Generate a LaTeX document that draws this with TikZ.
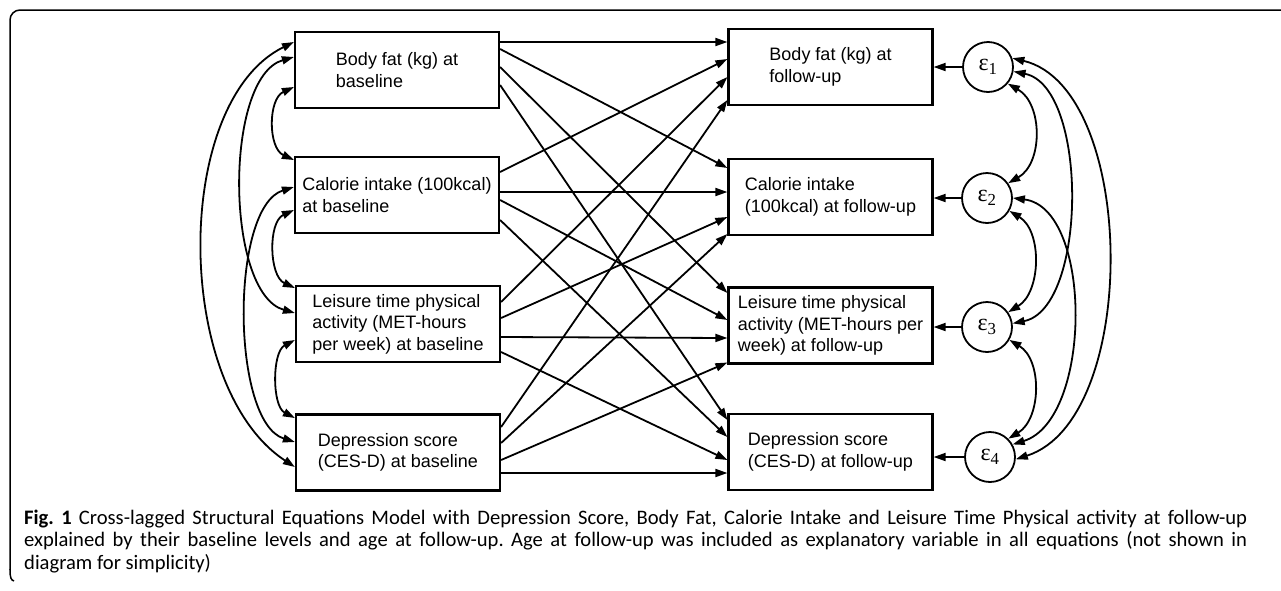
\documentclass[tikz,border=0pt]{standalone}
\usepackage{fontspec}
\setmainfont{Liberation Sans}
\newfontfamily\capfont{Carlito}
\newfontfamily\epsfont{Liberation Serif}
\usetikzlibrary{arrows.meta,calc}
\frenchspacing
\begin{document}
\begin{tikzpicture}[x=1pt,y=-1pt,
 box/.style={draw,line width=2.2pt,minimum width=204pt,minimum height=76pt,inner sep=0pt,align=left,font=\fontsize{18}{21.5}\selectfont},
 err/.style={draw,circle,line width=1.8pt,minimum size=50pt,inner sep=0pt,font=\epsfont\fontsize{24}{24}\selectfont},
 pth/.style={line width=1.8pt,-{Triangle[length=12pt,width=8pt]}},
 cov/.style={line width=1.8pt,{Triangle[length=12pt,width=8pt]}-{Triangle[length=12pt,width=8pt]}},
 capline/.style={anchor=base west,inner sep=0pt,font=\capfont\fontsize{20.6}{22}\selectfont},
]
\useasboundingbox (0,0) rectangle (1281,590);
% frame
\draw[line width=1.5pt,rounded corners=10pt] (1290,10) -- (10,10) -- (10,570);
\draw[line width=1.5pt] (10,569) .. controls (10,578) and (11,580) .. (14,581);
% baseline boxes
\node[box] (L1) at (397,70) {Body fat (kg) at\\baseline};
\node[box] (L2) at (397,195) {Calorie intake (100kcal)\\at baseline};
\node[box] (L3) at (398,324) {Leisure time physical\\activity (MET-hours\\per week) at baseline};
\node[box] (L4) at (398,452.5) {Depression score\\(CES-D) at baseline};
% follow-up boxes
\node[box] (R1) at (830.5,67) {Body fat (kg) at\\follow-up};
\node[box] (R2) at (830.5,197) {Calorie intake\\(100kcal) at follow-up};
\node[box] (R3) at (830.5,325.5) {Leisure time physical\\activity (MET-hours per\\week) at follow-up};
\node[box] (R4) at (830.5,452) {Depression score\\(CES-D) at follow-up};
% errors
\node[err] (e1) at (988,67) {ε\textsubscript{1}};
\node[err] (e2) at (987,198) {ε\textsubscript{2}};
\node[err] (e3) at (987,327) {ε\textsubscript{3}};
\node[err] (e4) at (990,457) {ε\textsubscript{4}};
% cross-lagged paths
\draw[pth] ($(L1.east)+(0,-28)$) -- ($(R1.west)+(0,-25)$);
\draw[pth] ($(L1.east)+(0,-21)$) -- ($(R2.west)+(0,-29)$);
\draw[pth] ($(L1.east)+(0,-3)$) -- ($(R3.west)+(0,-32.5)$);
\draw[pth] ($(L1.east)+(0,15)$) -- ($(R4.west)+(0,-32)$);
\draw[pth] ($(L2.east)+(0,-23)$) -- ($(R1.west)+(0,-8)$);
\draw[pth] ($(L2.east)+(0,-3)$) -- ($(R2.west)+(0,-5)$);
\draw[pth] ($(L2.east)+(0,5)$) -- ($(R3.west)+(0,-5.5)$);
\draw[pth] ($(L2.east)+(0,25)$) -- ($(R4.west)+(0,-15)$);
\draw[pth] ($(L3.east)+(0,-22)$) -- ($(R1.west)+(0,10)$);
\draw[pth] ($(L3.east)+(0,-6)$) -- ($(R2.west)+(0,20)$);
\draw[pth] ($(L3.east)+(0,13)$) -- ($(R3.west)+(0,12.5)$);
\draw[pth] ($(L3.east)+(0,28)$) -- ($(R4.west)+(0,8)$);
\draw[pth] ($(L4.east)+(0,-25.5)$) -- ($(R1.west)+(0,33)$);
\draw[pth] ($(L4.east)+(0,-9.5)$) -- ($(R2.west)+(0,37)$);
\draw[pth] ($(L4.east)+(0,7.5)$) -- ($(R3.west)+(0,37)$);
\draw[pth] ($(L4.east)+(0,20.5)$) -- ($(R4.west)+(0,21)$);
% error paths
\draw[pth] (e1.west) -- (e1.west -| R1.east);
\draw[pth] (e2.west) -- (e2.west -| R2.east);
\draw[pth] (e3.west) -- (e3.west -| R3.east);
\draw[pth] (e4.west) -- (e4.west -| R4.east);
% baseline covariances
\draw[cov] ($(L1.west)+(0,17)$) .. controls +(-26,12) and +(-26,-12) .. ($(L2.west)+(0,-35)$);
\draw[cov] ($(L2.west)+(0,15)$) .. controls +(-26,12) and +(-26,-12) .. ($(L3.west)+(0,-36)$);
\draw[cov] ($(L3.west)+(0,16)$) .. controls +(-23,12) and +(-23,-12) .. ($(L4.west)+(0,-34.5)$);
\draw[cov] ($(L1.west)+(0,-13)$) .. controls +(-70,20) and +(-70,-20) .. ($(L3.west)+(0,-11)$);
\draw[cov] ($(L2.west)+(0,-8)$) .. controls +(-64,20) and +(-64,-20) .. ($(L4.west)+(0,-10.5)$);
\draw[cov] ($(L1.west)+(0,-28)$) .. controls +(-122,60) and +(-122,-80) .. ($(L4.west)+(0,14.5)$);
% residual covariances
\draw[cov] (e1.-40) .. controls +(35,20) and +(35,-20) .. (e2.35);
\draw[cov] (e2.-30) .. controls +(33,20) and +(33,-20) .. (e3.35);
\draw[cov] (e3.-30) .. controls +(33,20) and +(33,-20) .. (e4.45);
\draw[cov] (e1.-10) .. controls +(75,15) and +(75,-15) .. (e3.8);
\draw[cov] (e2.0) .. controls +(80,10) and +(80,-25) .. (e4.29);
\draw[cov] (e1.20) .. controls +(125,30) and +(125,-40) .. (e4.-5);
% caption
\node[capline] (cap1) at (24,524) {\makebox[1223pt][s]{\textbf{Fig. 1} Cross-lagged Structural Equations Model with Depression Score, Body Fat, Calorie Intake and Leisure Time Physical activity at follow-up}};
\node[capline] (cap2) at (24,546.5) {\makebox[1223pt][s]{explained by their baseline levels and age at follow-up. Age at follow-up was included as explanatory variable in all equations (not shown in}};
\node[capline] (cap3) at (24,569) {diagram for simplicity)};
\end{tikzpicture}
\end{document}
